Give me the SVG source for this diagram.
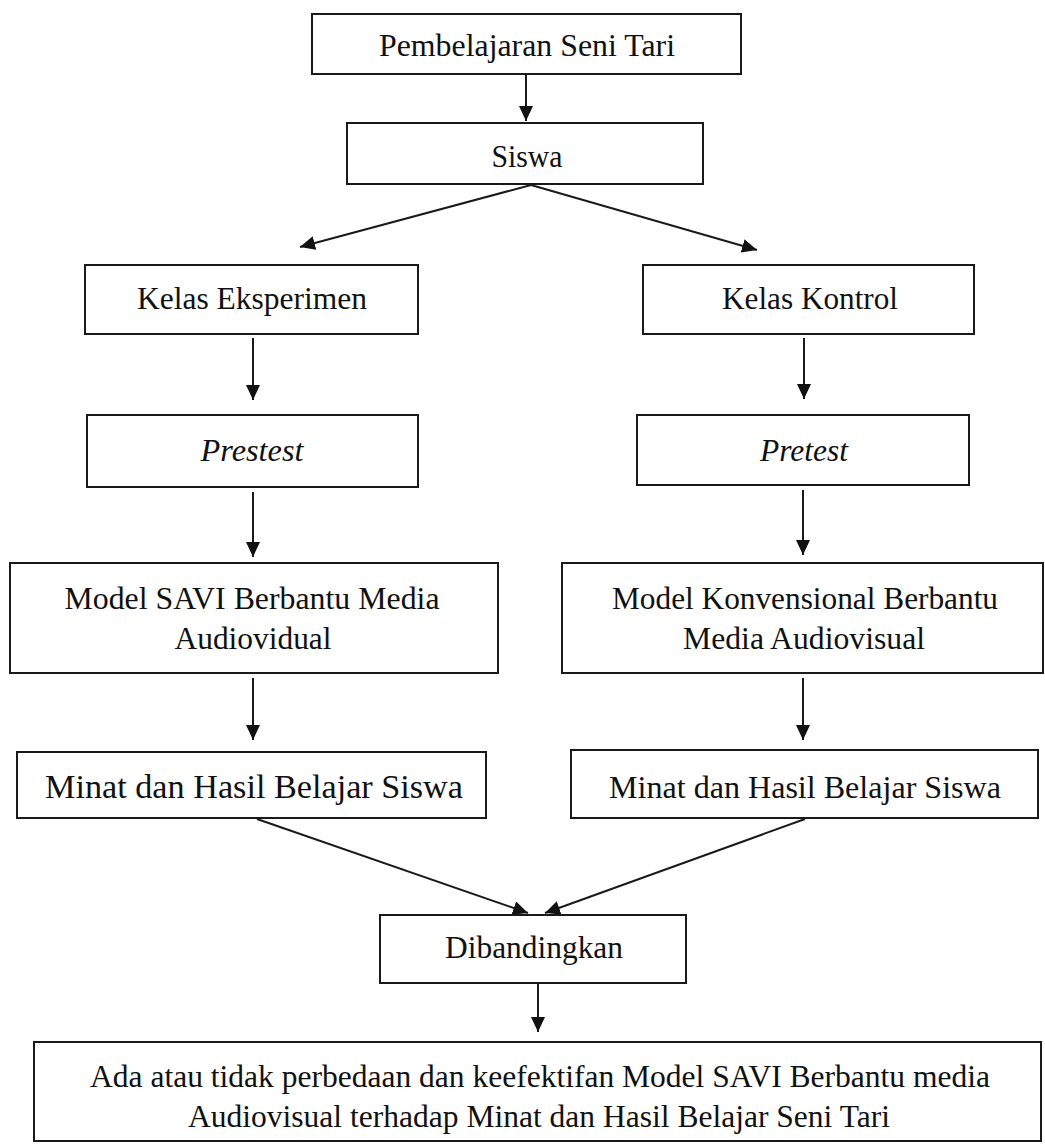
<svg xmlns="http://www.w3.org/2000/svg" width="1045" height="1144" viewBox="0 0 1045 1144">
<style>
.box{fill:#fff;stroke:#1a1a1a;stroke-width:2}
.t{font-family:"Liberation Serif","Times New Roman",serif;font-size:32px;fill:#111;text-anchor:middle}
.tb{font-size:34px}
.it{font-style:italic}
.c{stroke:#1a1a1a;stroke-width:2;fill:none;marker-end:url(#ah)}
</style>
<defs>
<marker id="ah" markerUnits="userSpaceOnUse" markerWidth="16" markerHeight="14" refX="15" refY="7" orient="auto">
<path d="M0,0 L15,7 L0,14 Z" fill="#111"/>
</marker>
</defs>
<rect width="1045" height="1144" fill="#fff"/>
<g id="connectors">
<line class="c" x1="526" y1="75" x2="526" y2="121"/>
<line class="c" x1="531" y1="185" x2="300" y2="247"/>
<line class="c" x1="531" y1="185" x2="757" y2="250"/>
<line class="c" x1="253" y1="338" x2="253" y2="400"/>
<line class="c" x1="804" y1="338" x2="804" y2="399"/>
<line class="c" x1="253" y1="492" x2="253" y2="557"/>
<line class="c" x1="803" y1="490" x2="803" y2="555"/>
<line class="c" x1="253" y1="678" x2="253" y2="740"/>
<line class="c" x1="803" y1="678" x2="803" y2="740"/>
<line class="c" x1="257" y1="819" x2="528" y2="913"/>
<line class="c" x1="805" y1="819" x2="545" y2="913"/>
<line class="c" x1="538" y1="984" x2="538" y2="1032"/>
</g>
<g id="n-pembelajaran">
<rect class="box" x="312" y="14" width="429" height="60"/>
<text class="t" x="527" y="56" textLength="296" lengthAdjust="spacingAndGlyphs">Pembelajaran Seni Tari</text>
</g>
<g id="n-siswa">
<rect class="box" x="347" y="123" width="356" height="61"/>
<text class="t" x="527" y="167" textLength="71" lengthAdjust="spacingAndGlyphs">Siswa</text>
</g>
<g id="n-kelas-eksperimen">
<rect class="box" x="85" y="265" width="333" height="69"/>
<text class="t" x="252" y="309" textLength="230" lengthAdjust="spacingAndGlyphs">Kelas Eksperimen</text>
</g>
<g id="n-kelas-kontrol">
<rect class="box" x="643" y="265" width="331" height="69"/>
<text class="t" x="810" y="309" textLength="176" lengthAdjust="spacingAndGlyphs">Kelas Kontrol</text>
</g>
<g id="n-prestest">
<rect class="box" x="87" y="415" width="331" height="72"/>
<text class="t it" x="252" y="461" textLength="103" lengthAdjust="spacingAndGlyphs">Prestest</text>
</g>
<g id="n-pretest">
<rect class="box" x="637" y="415" width="332" height="70"/>
<text class="t it" x="804" y="461" textLength="88" lengthAdjust="spacingAndGlyphs">Pretest</text>
</g>
<g id="n-model-savi">
<rect class="box" x="10" y="563" width="488" height="110"/>
<text class="t" x="252" y="609" textLength="375" lengthAdjust="spacingAndGlyphs">Model SAVI Berbantu Media</text>
<text class="t" x="253" y="649" textLength="157" lengthAdjust="spacingAndGlyphs">Audiovidual</text>
</g>
<g id="n-model-konvensional">
<rect class="box" x="562" y="563" width="481" height="110"/>
<text class="t" x="805" y="609" textLength="386" lengthAdjust="spacingAndGlyphs">Model Konvensional Berbantu</text>
<text class="t" x="804" y="649" textLength="242" lengthAdjust="spacingAndGlyphs">Media Audiovisual</text>
</g>
<g id="n-minat-kiri">
<rect class="box" x="17" y="752" width="469" height="66"/>
<text class="t tb" x="254" y="798" textLength="418" lengthAdjust="spacingAndGlyphs">Minat dan Hasil Belajar Siswa</text>
</g>
<g id="n-minat-kanan">
<rect class="box" x="571" y="750" width="467" height="68"/>
<text class="t" x="805" y="798" textLength="392" lengthAdjust="spacingAndGlyphs">Minat dan Hasil Belajar Siswa</text>
</g>
<g id="n-dibandingkan">
<rect class="box" x="380" y="915" width="306" height="68"/>
<text class="t" x="534" y="958" textLength="178" lengthAdjust="spacingAndGlyphs">Dibandingkan</text>
</g>
<g id="n-hasil">
<rect class="box" x="34" y="1042" width="1007" height="99"/>
<text class="t" x="540" y="1087" textLength="900" lengthAdjust="spacingAndGlyphs">Ada atau tidak perbedaan dan keefektifan Model SAVI Berbantu media</text>
<text class="t" x="539" y="1127" textLength="702" lengthAdjust="spacingAndGlyphs">Audiovisual terhadap Minat dan Hasil Belajar Seni Tari</text>
</g>
</svg>
